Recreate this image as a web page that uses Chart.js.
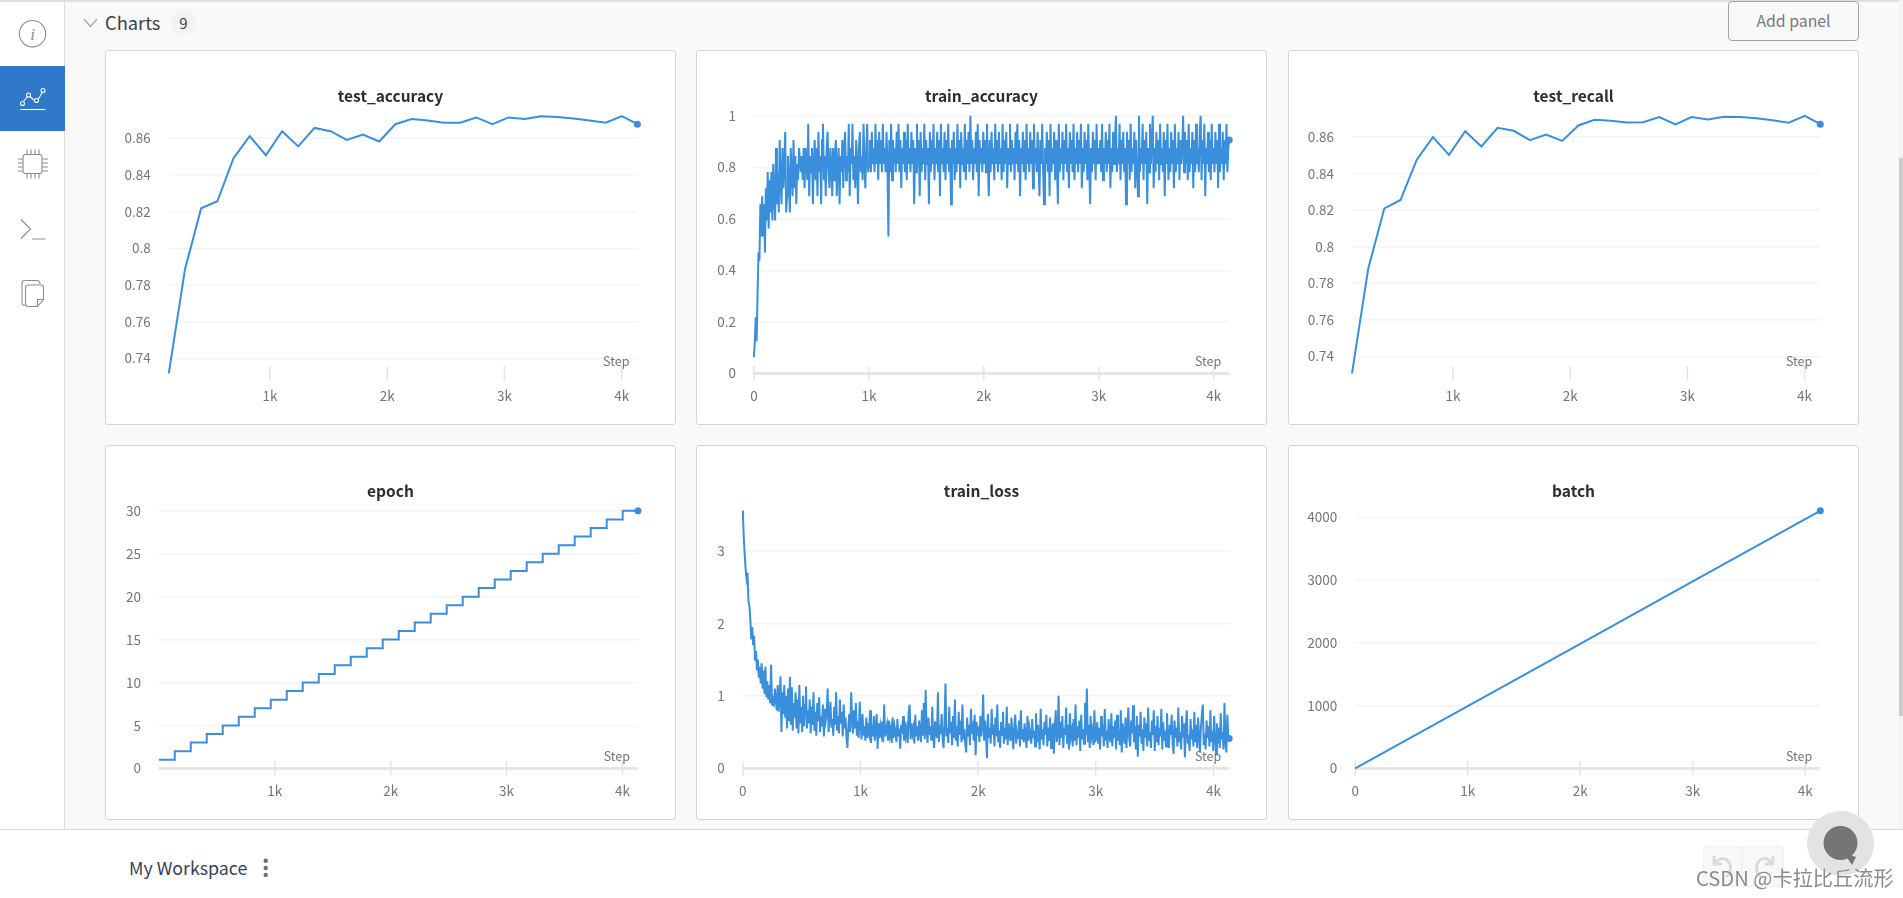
<!DOCTYPE html>
<html lang="en">
<head>
<meta charset="utf-8">
<title>Charts</title>
<script src="https://cdn.jsdelivr.net/npm/chart.js@4/dist/chart.umd.min.js"></script>
<style>
html,body{margin:0;padding:0;width:1903px;height:898px;overflow:hidden;background:#fff;font-family:"Noto Sans CJK SC","Noto Sans",sans-serif}
.abs{position:absolute;box-sizing:border-box}
#main{left:65px;top:0;width:1838px;height:830px;background:#f9f9f9;border-top:2px solid #dedede}
#side{left:0;top:0;width:65px;height:830px;background:#fff;border-right:1px solid #dcdcdc;border-top:2px solid #dedede}
#active{left:0;top:66px;width:65px;height:65px;background:#2f78c9}
#bottom{left:0;top:829px;width:1903px;height:69px;background:#fff;border-top:1px solid #d8d8d8}
.panel{background:#fff;border:1px solid #d4d4d4;border-radius:3px;width:571px;height:375px}
canvas.c{position:absolute}
#chartsLabel{left:105px;top:6px;font-size:18.3px;line-height:32px;color:#3c4048}
#badge{left:171px;top:10px;width:25px;height:25px;border-radius:13px;background:#f3f3f3;color:#444;font-size:15px;line-height:25px;text-align:center}
#addBtn{left:1728px;top:1px;width:131px;height:40px;border:1px solid #a3a3a3;border-radius:4px;color:#77787c;font-size:15.8px;line-height:37px;text-align:center;background:#f9f9f9}
#workspace{left:129px;top:853px;font-size:17.8px;line-height:28px;color:#3a4250}
#undo{left:1703px;top:846px;width:81px;height:41px;background:#f8f8f8;border:1px solid #f0f0f0;border-radius:4px}
#bubble{left:1807px;top:811px;width:67px;height:65px;border-radius:50%;background:#e3e3e3}
#water{left:1696px;top:862px;font-size:20.2px;line-height:32px;color:#8b8b8b;white-space:nowrap;text-shadow:0 0 1px #fff}
#thumb{left:1899px;top:158px;width:4px;height:558px;background:#cbcbcb}
#track{left:1899px;top:0;width:4px;height:830px;background:#f4f4f4}
</style>
</head>
<body>
<div class="abs" id="main"></div>
<div class="abs" id="side"></div>
<div class="abs" id="active"></div>
<div class="abs" id="track"></div>
<div class="abs" id="thumb"></div>
<div class="abs" id="bottom"></div>

<svg class="abs" style="left:0;top:0" width="66" height="320" fill="none" stroke="#8d8d8d" stroke-width="1.1">
  <circle cx="32.5" cy="33.7" r="13.2"/>
  <text x="32.5" y="39.5" text-anchor="middle" font-family="'Liberation Serif',serif" font-style="italic" font-size="17" fill="#8d8d8d" stroke="none">i</text>
  <g stroke="#fff" stroke-width="1.1">
    <path d="M20 109.5H45.5"/>
    <path d="M23.5 101.5L27.5 96.5M30 96.5L34.5 100.5M38 99.5L42 93"/>
    <circle cx="22.5" cy="103.5" r="2"/><circle cx="28.5" cy="95" r="2"/><circle cx="36.5" cy="100.5" r="2"/><circle cx="43" cy="90.5" r="2"/>
  </g>
  <rect x="23" y="154.5" width="19" height="19" rx="2.5"/>
  <path d="M27 149.5v5M31 149.5v5M35 149.5v5M39 149.5v5M27 173.5v5M31 173.5v5M35 173.5v5M39 173.5v5M18 159h5M18 163h5M18 167h5M18 171h5M42 159h6M42 163h6M42 167h6M42 171h6"/>
  <path d="M21 219.5L30.5 229L21 238.5M32 239H45.5"/>
  <path d="M25.5 305.5Q22 305.5 22 303V283Q22 280.5 25 280.5H37Q40 280.5 40 284"/>
  <path d="M25.5 288Q25.5 285 28 285H41Q43.5 285 43.5 287.5V299.5L37.5 306.5H28Q25.5 306.5 25.5 304ZM43.5 299.5H37.5V306.5"/>
</svg>

<svg class="abs" style="left:80px;top:15px" width="20" height="16" fill="none" stroke="#a8a8a8" stroke-width="1.3"><path d="M4 4L10.5 11.5L17 4"/></svg>
<div class="abs" id="chartsLabel">Charts</div>
<div class="abs" id="badge">9</div>
<div class="abs" id="addBtn">Add panel</div>

<div class="abs panel" style="left:105px;top:50px"></div>
<div class="abs panel" style="left:696px;top:50px"></div>
<div class="abs panel" style="left:1288px;top:50px"></div>
<div class="abs panel" style="left:105px;top:445px"></div>
<div class="abs panel" style="left:696px;top:445px"></div>
<div class="abs panel" style="left:1288px;top:445px"></div>

<canvas class="c" id="c_test_accuracy"></canvas>
<canvas class="c" id="c_train_accuracy"></canvas>
<canvas class="c" id="c_test_recall"></canvas>
<canvas class="c" id="c_epoch"></canvas>
<canvas class="c" id="c_train_loss"></canvas>
<canvas class="c" id="c_batch"></canvas>

<div class="abs" id="workspace">My Workspace</div>
<svg class="abs" style="left:260px;top:855px" width="12" height="26" fill="#6f6f6f"><circle cx="5.7" cy="5.7" r="2.2"/><circle cx="5.7" cy="13" r="2.2"/><circle cx="5.7" cy="20" r="2.2"/></svg>

<div class="abs" id="undo"></div>
<svg class="abs" style="left:1703px;top:846px" width="82" height="41" fill="none" stroke="#dadada" stroke-width="3">
  <path d="M39 0.5V40" stroke="#eeeeee" stroke-width="1"/>
  <path d="M11 10v8h8M12 17q6-7 12-3q6 5 2 14l-3 3"/>
  <path d="M70 10v8h-8M69 17q-6-7-12-3q-6 5-2 14l3 3"/>
</svg>
<div class="abs" id="bubble"></div>
<svg class="abs" style="left:1820px;top:825px" width="42" height="42" fill="#757575"><circle cx="20.5" cy="18" r="17"/><path d="M24 28L32 40L36 32Z"/></svg>
<div class="abs" id="water">CSDN @卡拉比丘流形</div>

<script>
/* ---------- data ---------- */
const testSteps = [138,276,414,552,690,828,966,1104,1242,1380,1518,1656,1794,1932,2070,2208,2346,2484,2622,2760,2898,3036,3174,3312,3450,3588,3726,3864,4002,4134];
const testAccuracy = [.7318,.7885,.8218,.8256,.8491,.8611,.8507,.8638,.8555,.8656,.8638,.8591,.8620,.8582,.8676,.8704,.8696,.8684,.8684,.8713,.8676,.8713,.8704,.8720,.8716,.8707,.8696,.8684,.8720,.8676];
const testRecall = [.7307,.7877,.8209,.8255,.8474,.8598,.8501,.8631,.8547,.8649,.8633,.8582,.8613,.8578,.8662,.8693,.8688,.8679,.8680,.8708,.8668,.8708,.8695,.8710,.8708,.8702,.8691,.8677,.8715,.8669];
const epochSteps = [1,138,276,414,552,690,828,966,1104,1242,1380,1518,1656,1794,1932,2070,2208,2346,2484,2622,2760,2898,3036,3174,3312,3450,3588,3726,3864,4002,4134];
const epochValues = [1,2,3,4,5,6,7,8,9,10,11,12,13,14,15,16,17,18,19,20,21,22,23,24,25,26,27,28,29,30,30];
const batchSteps = [0,1000,2000,3000,4000,4134];
const batchValues = [0,992,1984,2976,3968,4102];
const lastStep = 4134;
/* correct predictions per batch of 32, read along the run */
const batchSize = 32;
const trainCorrect = [
2,4,7,4,10,15,14,21,17,22,17,21,15,23,19,25,18,24,20,25,19,26,22,19,28,21,25,20,29,24,21,28,23,26,30,20,22,27,24,20,28,25,22,29,23,27,21,26,24,28,
28,25,27,24,28,23,28,26,24,31,22,27,25,28,21,26,29,24,28,22,30,25,27,21,29,31,24,27,22,28,30,25,23,28,26,22,28,24,27,29,22,26,28,21,27,25,29,23,28,30,24,27,25,31,22,28,26,31,24,27,23,29,26,21,28,30,25,27,24,31,26,23,28,31,25,
26,29,25,30,26,28,25,31,26,29,24,30,26,29,25,31,26,28,25,30,26,17,29,25,31,24,29,26,28,25,30,26,31,25,29,23,28,26,30,25,29,24,31,26,28,25,30,26,29,21,28,25,31,26,29,22,30,25,28,26,31,24,29,26,28,21,30,25,29,26,31,24,28,26,30,25,29,22,31,26,28,25,30,24,29,26,31,25,28,21,29,26,30,24,28,25,31,26,29,23,30,26,28,25,31,24,29,26,30,25,32,26,29,24,28,26,30,25,31,22,29,26,28,25,30,
26,29,25,31,26,22,29,25,30,26,28,24,31,26,29,25,30,26,28,24,31,25,29,26,30,23,28,26,31,25,29,26,28,24,30,26,31,25,29,22,28,26,30,25,29,24,31,26,28,25,30,26,29,23,31,26,28,25,30,26,22,29,26,31,25,21,28,26,30,25,29,22,31,25,28,26,30,24,29,26,21,31,25,28,26,30,24,29,26,31,25,28,23,30,26,29,25,31,24,28,26,30,25,29,26,31,23,28,25,30,26,29,24,31,26,21,28,25,30,26,29,24,31,26,28,
26,29,25,31,24,28,26,30,25,29,26,31,23,28,25,30,26,29,32,25,28,26,31,24,29,26,30,25,28,21,30,26,29,24,31,25,28,26,30,23,29,26,22,32,25,28,26,31,24,29,26,30,21,28,25,31,26,29,32,23,28,25,30,26,29,24,31,26,28,25,30,22,29,26,31,24,28,25,30,26,29,23,31,25,28,26,30,24,29,26,28,32,25,30,26,29,24,31,25,28,26,30,23,29,25,31,26,28,25,30,32,24,29,26,31,22,28,26,30,25,29,24,31,26,28,25,30,26,29,23,31,25,28,26,30,24,29,26,31,25,28,29];
/* loss in hundredths, read along the run */
const trainLossPct = [
356,320,295,275,262,270,230,225,205,178,195,170,183,150,162,135,150,125,140,117,145,110,135,103,140,98,120,95,115,90,143,88,100,85,110,95,80,115,78,100,127,50,105,75,115,70,100,55,110,65,
126,60,112,52,90,70,105,55,95,48,115,62,85,50,100,58,88,113,55,80,62,95,48,85,60,105,52,78,45,90,65,98,50,72,58,88,44,82,66,75,110,50,70,92,56,68,45,85,60,105,52,72,48,95,62,78,44,88,55,70,42,28,58,75,50,105,68,48,80,55,90,45,65,42,92,
62,40,75,45,58,38,70,42,55,48,80,35,60,44,72,38,56,75,27,62,42,58,48,65,36,88,44,52,60,38,66,46,54,35,70,42,58,50,36,68,44,55,27,60,48,72,38,64,45,54,35,78,88,40,62,48,56,34,74,44,58,38,66,50,36,80,45,90,40,108,52,35,70,46,58,38,85,44,28,65,50,42,105,36,60,48,75,40,28,62,117,44,55,35,85,48,64,32,72,42,95,38,58,30,78,46,66,36,88,40,54,34,22,70,44,60,32,82,48,56,38,74,18,64,45,
58,36,72,44,60,102,38,66,48,14,75,42,56,34,82,46,60,30,70,44,88,36,52,28,64,46,78,34,56,40,85,32,62,48,38,70,44,26,58,74,34,50,42,66,30,80,40,54,36,62,44,28,72,38,56,46,34,68,42,52,30,76,36,60,44,26,82,40,54,32,64,46,74,30,56,38,70,28,48,62,20,58,80,36,46,100,32,64,42,72,28,56,46,84,34,60,26,76,44,52,30,68,38,88,32,58,42,66,24,74,40,54,34,90,46,110,36,60,28,72,44,52,32,80,38,
40,64,34,56,26,72,44,60,30,82,38,52,28,68,46,36,76,30,58,42,66,26,74,38,54,32,80,22,62,44,34,70,28,56,84,40,30,66,48,87,36,58,26,72,16,60,44,78,34,54,24,70,42,62,30,84,38,50,28,66,46,80,24,58,36,72,32,56,44,82,26,64,38,52,30,76,40,28,60,46,74,34,20,66,42,56,30,84,36,50,26,72,44,62,15,58,80,34,46,24,68,40,54,30,78,36,60,28,70,44,22,56,74,88,32,48,26,66,42,58,30,80,36,52,24,72,44,20,62,34,56,28,76,40,50,26,90,38,22,74,42,41];

const stepTicks = [0,1000,2000,3000,4000];
const stepTickLabels = ['0','1k','2k','3k','4k'];
const testAccuracyTicks = [0.74,0.76,0.78,0.8,0.82,0.84,0.86];
const testRecallTicks = [0.74,0.76,0.78,0.8,0.82,0.84,0.86];
const trainAccuracyTicks = [0,0.2,0.4,0.6,0.8,1];
const epochTicks = [0,5,10,15,20,25,30];
const trainLossTicks = [0,1,2,3];
const batchTicks = [0,1000,2000,3000,4000];

/* ---------- helpers ---------- */
const LINE = '#3a8fdc', FONT = '"Noto Sans CJK SC","Noto Sans",sans-serif', TICK = '#74757d';
const pairs = (xs, ys) => ys.map((y, i) => ({x: xs[i], y}));
const sampled = ys => ys.map((y, i) => ({x: i * lastStep / (ys.length - 1), y}));

const stepMarks = {
  id: 'stepMarks',
  beforeDraw(chart) {
    /* centre the title over the whole panel, not over the padded area */
    const t = chart.titleBlock;
    t.left = 0; t.right = chart.width; t.width = chart.width;
  },
  beforeDatasetsDraw(chart) {
    const {ctx, chartArea: a, scales: {x}} = chart;
    ctx.save();
    ctx.strokeStyle = '#e4e4e4'; ctx.lineWidth = 1.5;
    x.ticks.forEach(t => {
      const px = x.getPixelForValue(t.value);
      ctx.beginPath(); ctx.moveTo(px, a.bottom - 7.3); ctx.lineTo(px, a.bottom + 7.5); ctx.stroke();
    });
    ctx.restore();
  },
  afterDatasetsDraw(chart) {
    const {ctx, chartArea: a} = chart;
    ctx.save();
    ctx.font = '12.5px ' + FONT; ctx.fillStyle = TICK;
    ctx.textAlign = 'right'; ctx.textBaseline = 'middle';
    ctx.fillText('Step', a.right - 8, a.bottom - 11.6);
    ctx.restore();
  }
};

function draw(o) {
  const W = 571, H = 375;
  const cv = document.getElementById('c_' + o.name);
  cv.style.left = o.left + 'px'; cv.style.top = o.top + 'px';
  cv.style.width = W + 'px'; cv.style.height = H + 'px';
  cv.width = W; cv.height = H;
  const n = o.data.length;
  new Chart(cv, {
    type: 'line',
    plugins: [stepMarks],
    data: {datasets: [{
      data: o.data,
      borderColor: LINE, backgroundColor: LINE,
      borderWidth: o.lw || 2, tension: 0, stepped: o.stepped || false,
      pointRadius: c => c.dataIndex === n - 1 ? 3.5 : 0,
      pointHoverRadius: 0, pointBorderWidth: 0, clip: false, fill: false
    }]},
    options: {
      responsive: false, animation: false, devicePixelRatio: 1,
      layout: {padding: {top: 0, left: 0, bottom: 0, right: W - o.plotRight}},
      plugins: {
        legend: {display: false}, tooltip: {enabled: false},
        title: {display: true, text: o.name, color: '#2a2d32',
          font: {family: FONT, size: 15.5, weight: '600', lineHeight: 1.2},
          padding: {top: 37, bottom: 10.2}}
      },
      scales: {
        x: {type: 'linear', min: o.xMin, max: lastStep,
          afterBuildTicks: s => { s.ticks = stepTicks.filter(v => v >= o.xMin).map(v => ({value: v})); },
          afterFit: s => { s.height = H - 323.3; },
          grid: {display: false, drawTicks: false}, border: {display: false},
          ticks: {color: TICK, padding: 14, maxRotation: 0, autoSkip: false,
            font: {family: FONT, size: 13.5},
            callback: v => stepTickLabels[stepTicks.indexOf(v)]}},
        y: {type: 'linear', min: o.yMin, max: o.yMax,
          afterBuildTicks: s => { s.ticks = o.ticks.map(v => ({value: v})); },
          afterFit: s => { s.width = o.plotLeft; },
          grid: {drawTicks: false, color: c => c.tick && c.tick.value === 0 ? '#e6e6e6' : '#f3f3f3',
            lineWidth: c => c.tick && c.tick.value === 0 ? 3 : 1.4},
          border: {display: false},
          ticks: {color: TICK, padding: 18, autoSkip: false,
            font: {family: FONT, size: 13.5}, callback: v => String(v)}}
      }
    }
  });
}

draw({name:'test_accuracy',  left:105,  top:50,  plotLeft:63.8, plotRight:532.4, xMin:138, yMin:.7318, yMax:.8722, ticks:testAccuracyTicks,  data:pairs(testSteps,testAccuracy)});
draw({name:'train_accuracy', left:696,  top:50,  plotLeft:57.9, plotRight:533.2, xMin:0,   yMin:0,     yMax:1,     ticks:trainAccuracyTicks, data:sampled(trainCorrect.map(v=>v/batchSize)), lw:2});
draw({name:'test_recall',    left:1288, top:50,  plotLeft:64,   plotRight:532.3, xMin:138, yMin:.7307, yMax:.8715, ticks:testRecallTicks,    data:pairs(testSteps,testRecall)});
draw({name:'epoch',          left:105,  top:445, plotLeft:53.9, plotRight:533,   xMin:1,   yMin:0,     yMax:30,    ticks:epochTicks,         data:pairs(epochSteps,epochValues), stepped:'before'});
draw({name:'train_loss',     left:696,  top:445, plotLeft:46.8, plotRight:533.2, xMin:0,   yMin:0,     yMax:3.555, ticks:trainLossTicks,     data:sampled(trainLossPct.map(v=>v/100)), lw:2});
draw({name:'batch',          left:1288, top:445, plotLeft:67.2, plotRight:532.3, xMin:0,   yMin:0,     yMax:4102,  ticks:batchTicks,         data:pairs(batchSteps,batchValues)});
</script>
</body>
</html>
